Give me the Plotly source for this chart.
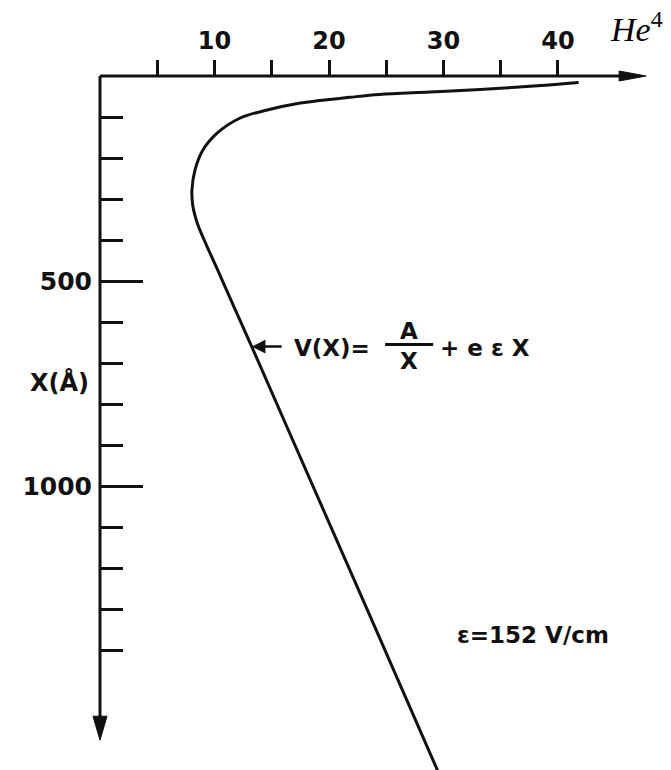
import plotly.graph_objects as go

# Potential V (horizontal, top scale) versus distance X in angstroms (downwards)
potential = [41.8, 38.2, 33.2, 28.8, 24.4, 21.8, 19.2, 17.5, 14.6, 12.2, 10.2,
             9.0, 8.3, 8.03, 8.1, 8.5, 9.1, 10.4, 11.7, 13.25, 17.6, 23.35, 29.5]
distance = [16, 24, 33, 39, 45, 52, 60, 66, 83, 103, 140,
            180, 229, 278, 315, 359, 400, 481, 563, 660, 937, 1302, 1695]

v_tickvals = [5, 10, 15, 20, 25, 30, 35, 40]
v_ticktext = ["", "10", "", "20", "", "30", "", "40"]
x_tickvals = [500, 1000]
x_ticktext = ["500", "1000"]
x_minor_ticks = [100, 200, 300, 400, 500, 600, 700, 800, 900, 1000, 1100, 1200, 1300, 1400]

V_RANGE = [-8.734, 49.87]
X_RANGE = [1692.7, -185.4]
V_AXIS_END = 47.7
X_AXIS_END = 1620
ARROW_X = 660          # depth where the formula label points at the curve
FIELD_LABEL = "ε=152 V/cm"

INK = "#111111"
LETTER = dict(family="DejaVu Sans", size=23, color=INK, weight="bold")

fig = go.Figure()
fig.add_trace(go.Scatter(
    x=potential, y=distance, mode="lines",
    line=dict(color=INK, width=3, shape="spline", smoothing=1.0),
    hoverinfo="skip",
))

fig.update_xaxes(
    range=V_RANGE, anchor="free", position=1 - 76 / 770, side="top",
    showgrid=False, zeroline=False, showline=False,
    tickmode="array", tickvals=v_tickvals, ticktext=v_ticktext,
    ticks="outside", ticklen=16, tickwidth=3, tickcolor=INK,
    tickfont=dict(family="DejaVu Sans", size=24, color=INK, weight="bold"),
    ticklabelstandoff=1,
)
fig.update_yaxes(
    range=X_RANGE, anchor="free", position=100 / 671, side="left",
    showgrid=False, zeroline=False, showline=False,
    tickmode="array", tickvals=x_tickvals, ticktext=x_ticktext,
    ticks="inside", ticklen=42, tickwidth=3, tickcolor=INK,
    minor=dict(tickvals=x_minor_ticks, ticks="inside", ticklen=22, tickwidth=3, tickcolor=INK),
    tickfont=dict(family="DejaVu Sans", size=25, color=INK, weight="bold"),
    ticklabelstandoff=8,
)

shapes = [
    # axis lines
    dict(type="line", xref="x", yref="y", x0=0, y0=0, x1=V_AXIS_END - 1.5, y1=0,
         line=dict(color=INK, width=3)),
    dict(type="line", xref="x", yref="y", x0=0, y0=0, x1=0, y1=X_AXIS_END - 40,
         line=dict(color=INK, width=3)),
    # arrow heads
    dict(type="path", xref="x", yref="y", xsizemode="pixel", ysizemode="pixel",
         xanchor=V_AXIS_END, yanchor=0, path="M-27,-5 L0,0 L-27,5 Z",
         fillcolor=INK, line=dict(color=INK, width=1)),
    dict(type="path", xref="x", yref="y", xsizemode="pixel", ysizemode="pixel",
         xanchor=0, yanchor=X_AXIS_END, path="M-7,24 L0,0 L7,24 Z",
         fillcolor=INK, line=dict(color=INK, width=1)),
    # fraction bar of A/X
    dict(type="line", xref="x", yref="y", x0=24.9, y0=655, x1=29.1, y1=655,
         line=dict(color=INK, width=3)),
]
fig.update_layout(shapes=shapes)

annotations = [
    # pointer to the curve
    dict(x=13.25, y=ARROW_X, ax=16.0, ay=ARROW_X, axref="x", ayref="y",
         xref="x", yref="y", text="", showarrow=True,
         arrowhead=2, arrowsize=1.1, arrowwidth=2.5, arrowcolor=INK),
    dict(x=16.8, y=663, xref="x", yref="y", text="V(X)=", showarrow=False,
         xanchor="left", yanchor="middle", font=LETTER),
    dict(x=27.0, y=622, xref="x", yref="y", text="A", showarrow=False,
         xanchor="center", yanchor="middle", font=LETTER),
    dict(x=27.0, y=695, xref="x", yref="y", text="X", showarrow=False,
         xanchor="center", yanchor="middle", font=LETTER),
    dict(x=29.5, y=663, xref="x", yref="y", text="+ e ε X", showarrow=False,
         xanchor="left", yanchor="middle", font=LETTER),
    dict(x=31.0, y=1363, xref="x", yref="y", text=FIELD_LABEL, showarrow=False,
         xanchor="left", yanchor="middle", font=LETTER),
    dict(x=0, y=748, xref="x", yref="y", text="X(Å)", showarrow=False,
         xanchor="right", yanchor="middle", xshift=-9,
         font=dict(family="DejaVu Sans", size=24, color=INK, weight="bold")),
    dict(x=44.37, y=-63, xref="x", yref="y", text="<i>He</i><sup>4</sup>", showarrow=False,
         xanchor="left", yanchor="bottom",
         font=dict(family="Liberation Serif", size=34, color="black")),
]

fig.update_layout(
    width=671, height=770,
    margin=dict(l=0, r=0, t=0, b=0),
    paper_bgcolor="white", plot_bgcolor="white",
    showlegend=False,
    annotations=annotations,
)

fig.write_html("out.html")
